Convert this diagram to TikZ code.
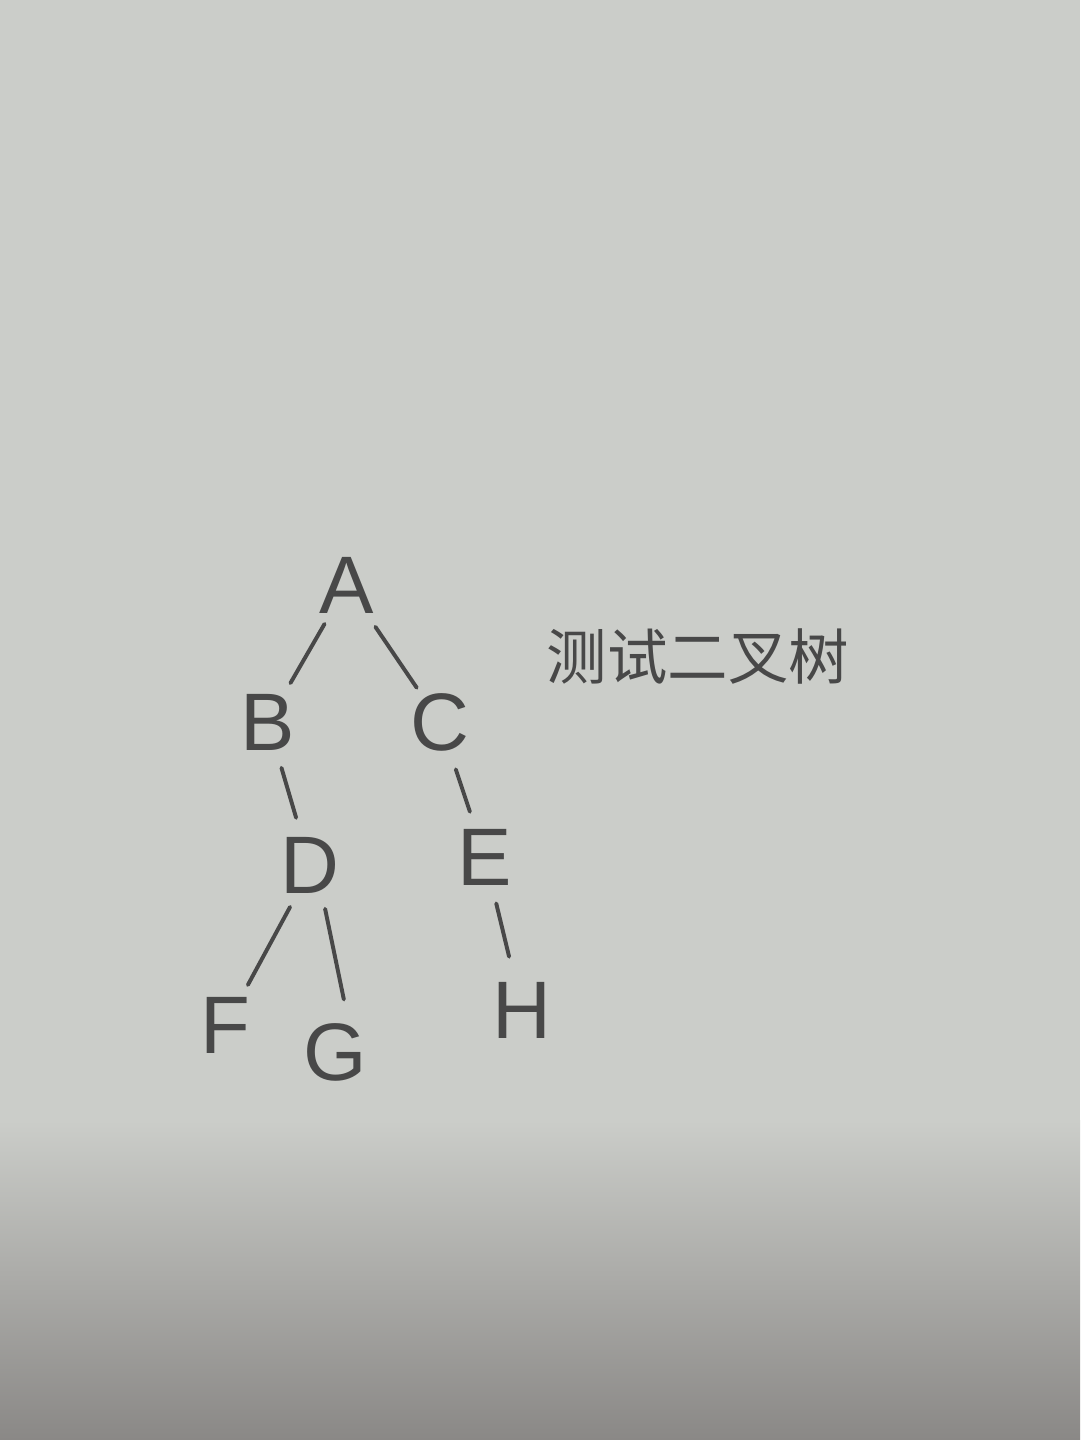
\documentclass[tikz,border=0pt]{standalone}
\usepackage{fontspec}
\setmainfont{Liberation Sans}
\newfontfamily\cjk{Noto Sans CJK SC}
\definecolor{paper}{RGB}{203,205,201}
\definecolor{paperdark}{RGB}{138,136,134}
\definecolor{ink}{RGB}{72,72,72}
\begin{document}
\begin{tikzpicture}[x=0.025cm,y=-0.025cm,
  letter/.style={circle,inner sep=0pt,minimum size=1.6cm,text=ink,font=\fontsize{58}{60}\selectfont},
  edge/.style={draw=ink,line width=2.8pt,line cap=round}]
\fill[paper] (0,0) rectangle (1080,1440);
\shade[top color=paper,bottom color=paperdark] (0,1120) rectangle (1080,1440);
\useasboundingbox (0,0) rectangle (1080,1440);
\node[letter] (A) at (347,585) {A};
\node[letter] (B) at (268,722) {B};
\node[letter] (C) at (440,722) {C};
\node[letter] (D) at (310,865) {D};
\node[letter] (E) at (485,857) {E};
\node[letter] (F) at (225,1025) {F};
\node[letter] (G) at (335,1052) {G};
\node[letter] (H) at (522,1010) {H};
\node[text=ink,font=\cjk\fontsize{43}{45}\selectfont] (T) at (698,657) {测试二叉树};
\draw[edge,shorten <=4pt,shorten >=4pt] (A) -- (B);
\draw[edge,shorten <=8pt,shorten >=0pt] (A) -- (C);
\draw[edge,shorten <=6pt,shorten >=6pt] (B) -- (D);
\draw[edge,shorten <=6pt,shorten >=6pt] (C) -- (E);
\draw[edge,shorten <=4pt,shorten >=6pt] (D.-115) -- (F.60);
\draw[edge,shorten <=4pt,shorten >=8pt] (D.-70) -- (G.75);
\draw[edge,shorten <=6pt,shorten >=10pt] (E) -- (H);
\end{tikzpicture}
\end{document}
